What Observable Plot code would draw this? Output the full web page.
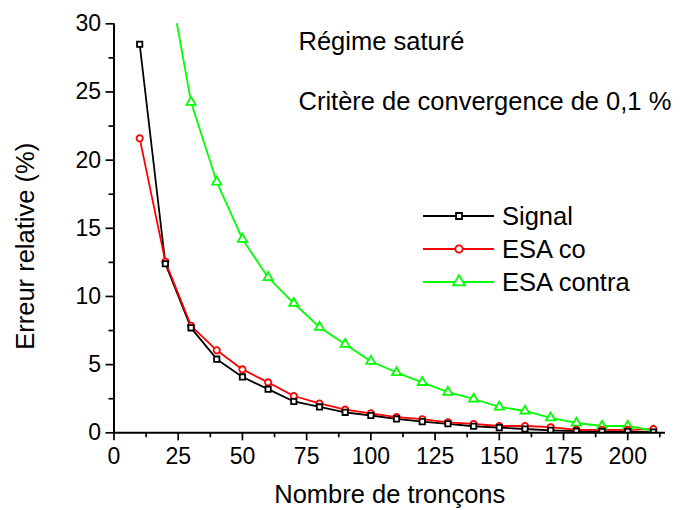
<!DOCTYPE html>
<html>
<head>
<meta charset="utf-8">
<script src="https://cdn.jsdelivr.net/npm/d3@7"></script>
<script src="https://cdn.jsdelivr.net/npm/@observablehq/plot@0.6"></script>
<style>
  body { margin: 0; background: white; }
  #wrap { position: relative; width: 680px; height: 510px; font-family: "Liberation Sans", Arial, sans-serif; }
  #legend { position: absolute; left: 0; top: 0; }
</style>
</head>
<body>
<div id="wrap"></div>
<script>
// ---- data ----
const seriesNames = ["Signal", "ESA co", "ESA contra"];
const seriesColors = ["#000000", "#ff0000", "#00ff00"];
const seriesSymbols = ["square", "circle", "triangle"];

const xSignal = [10,20,30,40,50,60,70,80,90,100,110,120,130,140,150,160,170,180,190,200,210];
const signal  = [28.5,12.4,7.7,5.4,4.1,3.2,2.3,1.9,1.5,1.27,1.02,0.82,0.66,0.48,0.38,0.28,0.18,0.12,0.1,0.09,0.05];

const xEsaCo = [10,20,30,40,50,60,70,80,90,100,110,120,130,140,150,160,170,180,190,200,210];
const esaCo  = [21.6,12.55,7.85,6.05,4.65,3.7,2.7,2.15,1.7,1.43,1.15,1.0,0.77,0.65,0.5,0.5,0.41,0.22,0.22,0.22,0.27];

const xEsaContra = [20,30,40,50,60,70,80,90,100,110,120,130,140,150,160,170,180,190,200,210];
const esaContra  = [34.7,24.25,18.4,14.2,11.4,9.5,7.75,6.5,5.25,4.42,3.7,2.98,2.48,1.9,1.6,1.1,0.72,0.5,0.5,0.15];

const xTicks = [0,25,50,75,100,125,150,175,200];
const xMinor = [12.5,37.5,62.5,87.5,112.5,137.5,162.5,187.5,212.5];
const yTicks = [0,5,10,15,20,25,30];
const yMinor = [2.5,7.5,12.5,17.5,22.5,27.5];

const xLabel = "Nombre de tronçons";
const yLabel = "Erreur relative (%)";
const note1 = "Régime saturé";
const note2 = "Critère de convergence de 0,1 %";

// ---- build table ----
const rows = [];
[[xSignal, signal], [xEsaCo, esaCo], [xEsaContra, esaContra]].forEach(([xs, ys], i) => {
  xs.forEach((x, j) => rows.push({x, y: ys[j], series: seriesNames[i]}));
});

const font = "Liberation Sans, Arial, sans-serif";
const radii = {"Signal": 3.4, "ESA co": 3.7, "ESA contra": 4.4};
const lw = 1.8;

const chart = Plot.plot({
  width: 680,
  height: 510,
  marginLeft: 113.5,
  marginRight: 15,
  marginTop: 23.3,
  marginBottom: 77.7,
  style: {fontFamily: font, fontSize: "23px", background: "white", color: "black"},
  x: {domain: [0, 214.7]},
  y: {domain: [0, 30]},
  color: {domain: seriesNames, range: seriesColors},
  symbol: {domain: seriesNames, range: seriesSymbols},
  marks: [
    Plot.axisX({ticks: xTicks, tickSize: 8, tickPadding: 7, fontSize: 23, strokeWidth: 1.7, label: null}),
    Plot.axisX({ticks: xMinor, tickSize: 5, tickFormat: () => "", strokeWidth: 1.7, label: null}),
    Plot.axisY({ticks: yTicks, tickSize: 8, tickPadding: 5, fontSize: 23, strokeWidth: 1.7, label: null}),
    Plot.axisY({ticks: yMinor, tickSize: 5, tickFormat: () => "", strokeWidth: 1.7, label: null}),
    Plot.line(rows, {x: "x", y: "y", z: "series", stroke: "series", strokeWidth: lw, clip: true}),
    Plot.dot(rows, {x: "x", y: "y", stroke: "series", symbol: "series", fill: "white", r: (d) => radii[d.series], strokeWidth: lw, clip: true}),
    Plot.ruleY([0], {strokeWidth: 2}),
    Plot.ruleX([0], {strokeWidth: 2}),
    Plot.text([xLabel], {frameAnchor: "bottom", lineAnchor: "middle", dy: 62, fontSize: 25.5}),
    Plot.text([yLabel], {frameAnchor: "left", textAnchor: "middle", lineAnchor: "middle", rotate: -90, dx: -88.5, dy: 18, fontSize: 25.5}),
    Plot.text([note1], {frameAnchor: "top-left", textAnchor: "start", lineAnchor: "middle", dx: 184.5, dy: 17.7, fontSize: 25.5}),
    Plot.text([note2], {frameAnchor: "top-left", textAnchor: "start", lineAnchor: "middle", dx: 184.5, dy: 77.7, fontSize: 25.5})
  ]
});

const wrap = document.getElementById("wrap");
wrap.appendChild(chart);

// ---- legend overlay ----
const leg = d3.create("svg").attr("id", "legend").attr("width", 680).attr("height", 510)
  .style("font-family", font);
const symMap = {square: d3.symbolSquare, circle: d3.symbolCircle, triangle: d3.symbolTriangle};
const legX0 = 423, legX1 = 494, legXm = 459, legTx = 502, legY0 = 216, legDy = 33;
seriesNames.forEach((name, i) => {
  const y = legY0 + i * legDy;
  const r = radii[name];
  leg.append("line").attr("x1", legX0).attr("x2", legX1).attr("y1", y).attr("y2", y)
    .attr("stroke", seriesColors[i]).attr("stroke-width", lw);
  leg.append("path").attr("transform", `translate(${legXm},${y})`)
    .attr("d", d3.symbol(symMap[seriesSymbols[i]], Math.PI * r * r)())
    .attr("fill", "white").attr("stroke", seriesColors[i]).attr("stroke-width", lw);
  leg.append("text").attr("x", legTx).attr("y", y).attr("dy", "0.35em")
    .attr("font-size", 25.5).attr("fill", "black").text(name);
});
wrap.appendChild(leg.node());
</script>
</body>
</html>
